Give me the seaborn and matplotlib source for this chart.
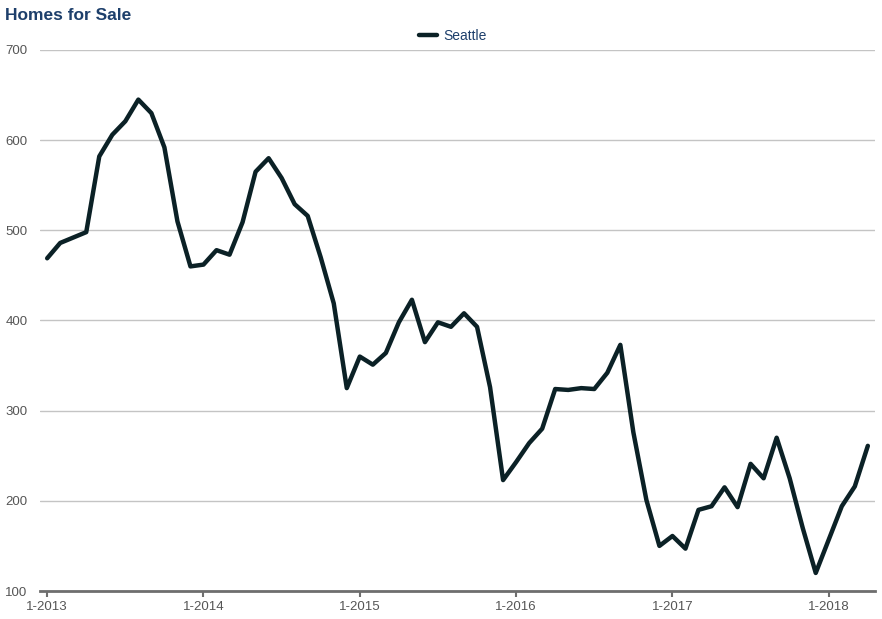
import pandas as pd
import matplotlib.pyplot as plt
import seaborn as sns

# Monthly homes for sale, Seattle, Jan 2013 - Apr 2018
months = pd.date_range('2013-01-01', '2018-04-01', freq='MS')
seattle = [469, 486, 492, 498, 582, 606, 621, 645, 630, 592, 510, 460,
           462, 478, 473, 509, 565, 580, 558, 529, 516, 470, 419, 325,
           360, 351, 364, 398, 423, 376, 398, 393, 408, 393, 326, 223,
           243, 264, 280, 324, 323, 325, 324, 342, 373, 276, 201, 150,
           161, 147, 190, 194, 215, 193, 241, 225, 270, 225, 170, 120,
           157, 194, 216, 261]
y_ticks = [100, 200, 300, 400, 500, 600, 700]
x_tick_labels = ['1-2013', '1-2014', '1-2015', '1-2016', '1-2017', '1-2018']

data = pd.DataFrame({'idx': range(len(months)), 'Homes': seattle})

sns.set_style('white')
plt.rcParams['font.family'] = ['Liberation Sans', 'DejaVu Sans']

fig = plt.figure(figsize=(8.82, 6.19), dpi=100)
ax = fig.add_axes([40 / 882, 1 - 591 / 619, 835 / 882, 541 / 619])

sns.lineplot(x='idx', y='Homes', data=data, ax=ax, color='#0b2126',
             linewidth=3.2, label='Seattle', legend=False)

ax.set_xlim(-0.55, 63.55)
ax.set_ylim(100, 700)
ax.set_yticks(y_ticks)
ax.set_xticks([0, 12, 24, 36, 48, 60])
ax.set_xticklabels(x_tick_labels)
ax.set_xlabel('')
ax.set_ylabel('')

ax.grid(axis='y', color='#c4c4c4', linewidth=1)
ax.grid(axis='x', visible=False)
for s in ['top', 'right', 'left']:
    ax.spines[s].set_visible(False)
ax.spines['bottom'].set_color('#6e6e6e')
ax.spines['bottom'].set_linewidth(2)
ax.spines['bottom'].set_zorder(5)
ax.tick_params(axis='y', length=0, pad=9, labelsize=9.5, labelcolor='#555555')
ax.tick_params(axis='x', length=4, width=1.5, color='#6e6e6e', pad=3,
               labelsize=9.5, labelcolor='#555555', bottom=True)

fig.text(5 / 882, 1 - 15 / 619, 'Homes for Sale', fontsize=12.5, fontweight='bold',
         color='#1d3f6b', ha='left', va='center')

handles, labels = ax.get_legend_handles_labels()
leg = fig.legend(handles, labels, loc='center', bbox_to_anchor=(453 / 882, 1 - 36 / 619),
                 frameon=False, fontsize=10, handlelength=1.3, handletextpad=0.5)
for t in leg.get_texts():
    t.set_color('#1d3f6b')

fig.savefig('out.png', dpi=100)
